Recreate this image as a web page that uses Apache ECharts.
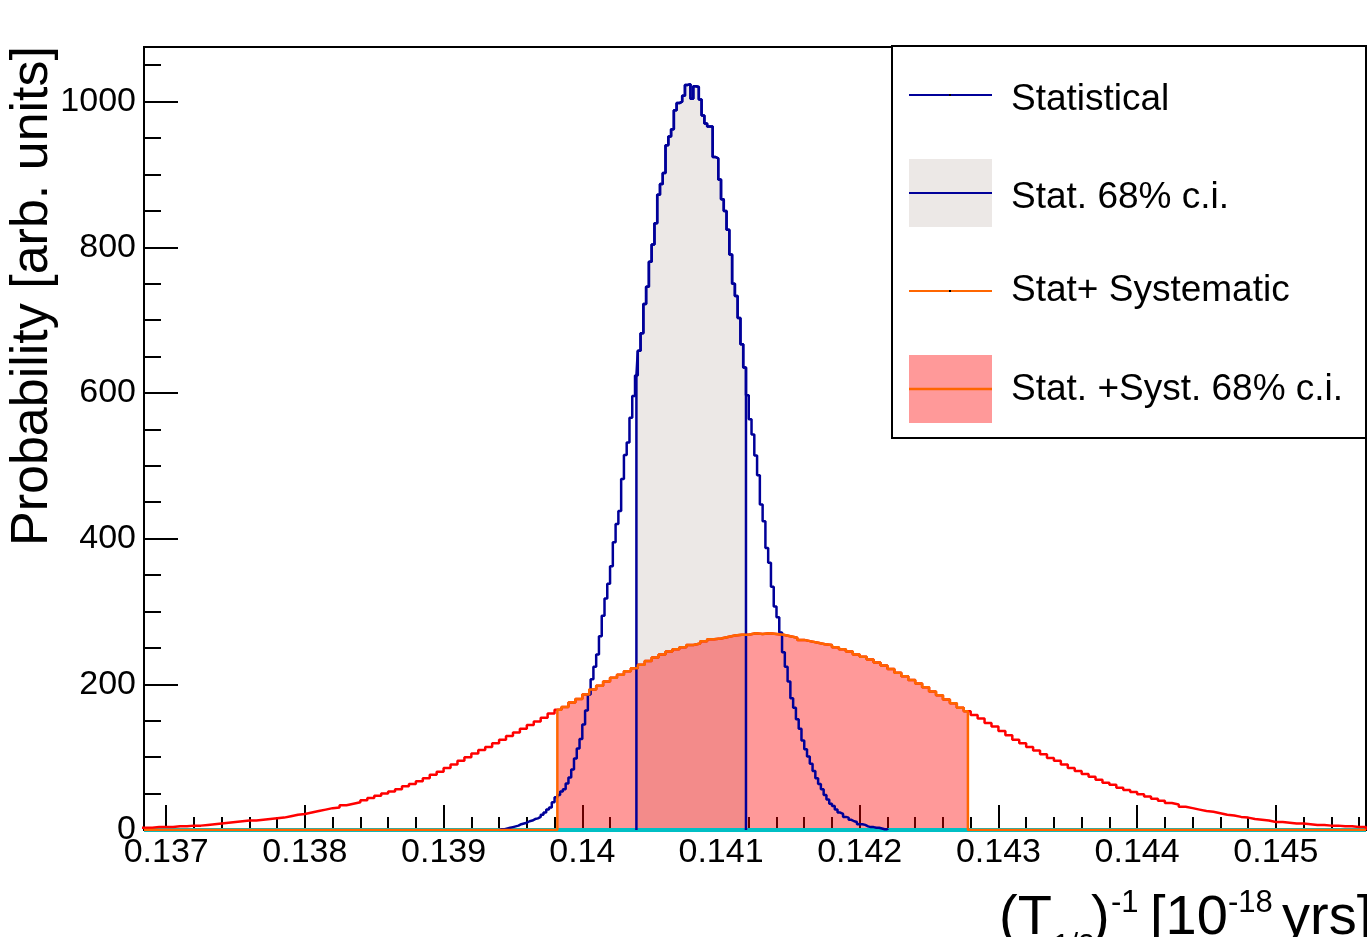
<!DOCTYPE html>
<html><head><meta charset="utf-8">
<script src="https://cdn.jsdelivr.net/npm/echarts@6/dist/echarts.min.js"></script>
<style>html,body{margin:0;padding:0;background:#fff}#c{width:1367px;height:937px}</style>
</head><body><div id="c"></div>
<script>
// ---- data ----
const xRange = [0.13684, 0.14565];
const yRange = [0, 1075];
const xTickValues = [0.137, 0.138, 0.139, 0.140, 0.141, 0.142, 0.143, 0.144, 0.145];
const yTickValues = [0, 200, 400, 600, 800, 1000];
const seriesNames = ['Statistical', 'Stat. 68% c.i.', 'Stat+ Systematic', 'Stat. +Syst. 68% c.i.'];

// Statistical posterior (bins of 0.00002 starting at 0.1394)
const statStart = 0.1394;
const statBinWidth = 0.00002;
const statValues = [
  1,1,2,3,4,5,6,8,9,10,
  12,13,15,16,18,21,24,28,31,38,
  45,48,53,56,64,72,83,98,112,125,
  145,164,186,207,224,241,266,294,318,338,
  362,395,420,438,482,515,532,566,596,624,
  658,682,722,746,780,804,833,872,887,902,
  940,952,962,988,998,1000,1008,1023,1024,1004,
  1021,1020,1003,981,970,966,966,924,922,893,
  866,850,824,790,750,733,703,667,635,597,
  564,543,514,487,447,424,387,367,334,307,
  292,271,244,224,204,181,168,152,139,123,
  111,101,91,81,71,63,56,48,42,36,
  33,28,24,22,18,17,14,12,11,8,
  8,7,5,4,4,3,3,2,1,1
];
const statCI = [0.14039, 0.14118];

// Stat + systematic posterior (bins of 0.00005 starting at 0.1368)
const systStart = 0.1368;
const systBinWidth = 0.00005;
const systValues = [
  3,
  3,4,4,4,5,5,6,6,7,8,
  9,10,11,12,13,13,14,15,16,17,
  19,21,22,24,26,28,30,31,34,36,
  38,41,44,47,50,53,56,60,63,67,
  71,76,80,85,90,95,100,105,110,114,
  119,124,129,134,139,144,149,154,160,165,
  169,175,180,186,193,198,204,209,213,218,
  222,227,232,237,241,245,248,251,254,256,
  259,262,263,265,267,268,268,270,269,270,
  269,268,266,264,261,259,257,255,254,251,
  248,245,241,238,234,230,226,221,216,211,
  206,201,196,190,185,179,174,168,163,158,
  153,147,142,136,130,124,119,114,109,104,
  99,95,90,85,81,77,73,69,65,62,
  58,55,52,49,46,43,40,37,35,32,
  30,28,26,25,23,21,20,18,17,15,
  14,13,11,11,10,9,9,8,7,7,
  6,6,5,5,4,4
];
const systCI = [0.13982, 0.14278];

// ---- helpers ----
function histPoints(start, w, vals, lo, hi, pad) {
  const pts = [];
  if (pad) pts.push([pad[0], 0]);
  pts.push([lo, 0]);
  const i0 = Math.max(0, Math.floor((lo - start) / w + 1e-9));
  const i1 = Math.min(vals.length - 1, Math.ceil((hi - start) / w - 1e-9) - 1);
  pts.push([lo, vals[i0]]);
  for (let i = i0 + 1; i <= i1; i++) pts.push([start + i * w, vals[i]]);
  pts.push([hi, vals[i1]]);
  pts.push([hi, 0]);
  if (pad) pts.push([pad[1], 0]);
  return pts;
}
const statEnd = statStart + statValues.length * statBinWidth;
const systEnd = systStart + systValues.length * systBinWidth;

const FONT = '"Liberation Sans", Arial, Helvetica, sans-serif';
const BLUE = '#000099', GRAY = '#ece8e6', RED = '#ff0000', ORANGE = '#ff6600', CYAN = '#00bfc4';

const chart = echarts.init(document.getElementById('c'), null, {renderer: 'canvas'});

function txt(text, x, y, size, align) {
  return {type: 'text', x: x, y: y, z: 100, silent: true,
    style: {text: text, font: size + 'px ' + FONT, fill: '#000',
      align: align || 'left', verticalAlign: 'middle',
      textAlign: align || 'left', textVerticalAlign: 'middle'}};
}

const legendEls = [
  {type: 'rect', z: 99, shape: {x: 892, y: 46, width: 474, height: 392}, style: {fill: '#fff', stroke: '#000', lineWidth: 2}},
  {type: 'line', z: 100, shape: {x1: 909, y1: 95, x2: 992, y2: 95}, style: {stroke: BLUE, lineWidth: 2}},
  {type: 'rect', z: 101, shape: {x: 949, y: 94, width: 2, height: 2}, style: {fill: '#000'}},
  txt(seriesNames[0], 1011, 100, 37),
  {type: 'rect', z: 100, shape: {x: 909, y: 159, width: 83, height: 68}, style: {fill: GRAY}},
  {type: 'line', z: 101, shape: {x1: 909, y1: 193, x2: 992, y2: 193}, style: {stroke: BLUE, lineWidth: 2}},
  txt(seriesNames[1], 1011, 198, 37),
  {type: 'line', z: 100, shape: {x1: 909, y1: 291, x2: 992, y2: 291}, style: {stroke: ORANGE, lineWidth: 2}},
  {type: 'rect', z: 101, shape: {x: 949, y: 290, width: 2, height: 2}, style: {fill: '#000'}},
  txt(seriesNames[2], 1011, 291, 37),
  {type: 'rect', z: 100, shape: {x: 909, y: 355, width: 83, height: 68}, style: {fill: '#ff9999'}},
  {type: 'line', z: 101, shape: {x1: 909, y1: 389, x2: 992, y2: 389}, style: {stroke: ORANGE, lineWidth: 2.5}},
  txt(seriesNames[3], 1011, 390, 37)
];

const yTitle = {type: 'text', x: 33, y: 46, rotation: Math.PI / 2, z: 100, silent: true,
  style: {text: 'Probability [arb. units]', font: '52px ' + FONT, fill: '#000',
    align: 'right', verticalAlign: 'middle', textAlign: 'right', textVerticalAlign: 'middle'}};

const xTitle = [
  txt('(T', 999, 919, 56),
  txt('1/2', 1053, 946, 30),
  txt(')', 1091, 919, 56),
  txt('-1', 1111, 903, 31),
  txt('[10', 1150, 919, 56),
  txt('-18', 1228, 903, 31),
  txt('yrs]', 1282, 919, 56)
];

const option = {
  animation: false,
  backgroundColor: '#fff',
  grid: {left: 144, top: 47, right: 1, bottom: 107, show: true, borderColor: '#000', borderWidth: 2, backgroundColor: 'transparent'},
  xAxis: {
    type: 'value', min: xRange[0], max: xRange[1], splitNumber: 9, minInterval: 0.001, maxInterval: 0.001,
    axisLine: {show: true, onZero: false, lineStyle: {color: '#000', width: 2}},
    axisTick: {show: true, inside: true, length: 25, customValues: xTickValues, lineStyle: {color: '#000', width: 2}},
    minorTick: {show: true, splitNumber: 5, length: 13, lineStyle: {color: '#000', width: 2}},
    axisLabel: {show: true, customValues: xTickValues, margin: 6, fontSize: 34, fontFamily: FONT, color: '#000',
      formatter: v => String(+v.toFixed(4))},
    splitLine: {show: false}
  },
  yAxis: {
    type: 'value', min: yRange[0], max: yRange[1], interval: 200,
    axisLine: {show: true, onZero: false, lineStyle: {color: '#000', width: 2}},
    axisTick: {show: true, inside: true, length: 34, customValues: yTickValues, lineStyle: {color: '#000', width: 2}},
    minorTick: {show: true, splitNumber: 4, length: 17, lineStyle: {color: '#000', width: 2}},
    axisLabel: {show: true, customValues: yTickValues, margin: 8, fontSize: 34, fontFamily: FONT, color: '#000',
      formatter: v => String(v)},
    splitLine: {show: false}
  },
  series: [
    {type: 'line', silent: true, symbol: 'none', data: [[xRange[0], 0], [xRange[1], 0]],
      lineStyle: {color: CYAN, width: 4}},
    {type: 'line', name: seriesNames[2], silent: true, symbol: 'none', step: 'end',
      data: histPoints(systStart, systBinWidth, systValues, systStart, systEnd),
      lineStyle: {color: RED, width: 2.5}},
    {type: 'line', name: seriesNames[0], silent: true, symbol: 'none', step: 'end',
      data: histPoints(statStart, statBinWidth, statValues, statStart, statEnd),
      lineStyle: {color: BLUE, width: 2.5}},
    {type: 'line', name: seriesNames[1], silent: true, symbol: 'none', step: 'end',
      data: histPoints(statStart, statBinWidth, statValues, statCI[0], statCI[1]),
      lineStyle: {color: BLUE, width: 2.5}, areaStyle: {color: GRAY, opacity: 1}},
    {type: 'line', name: seriesNames[3], silent: true, symbol: 'none', step: 'end',
      data: histPoints(systStart, systBinWidth, systValues, systCI[0], systCI[1], xRange),
      lineStyle: {color: ORANGE, width: 2.5}, areaStyle: {color: RED, opacity: 0.4}}
  ],
  graphic: {elements: legendEls.concat([yTitle]).concat(xTitle)}
};
chart.setOption(option);
</script></body></html>
